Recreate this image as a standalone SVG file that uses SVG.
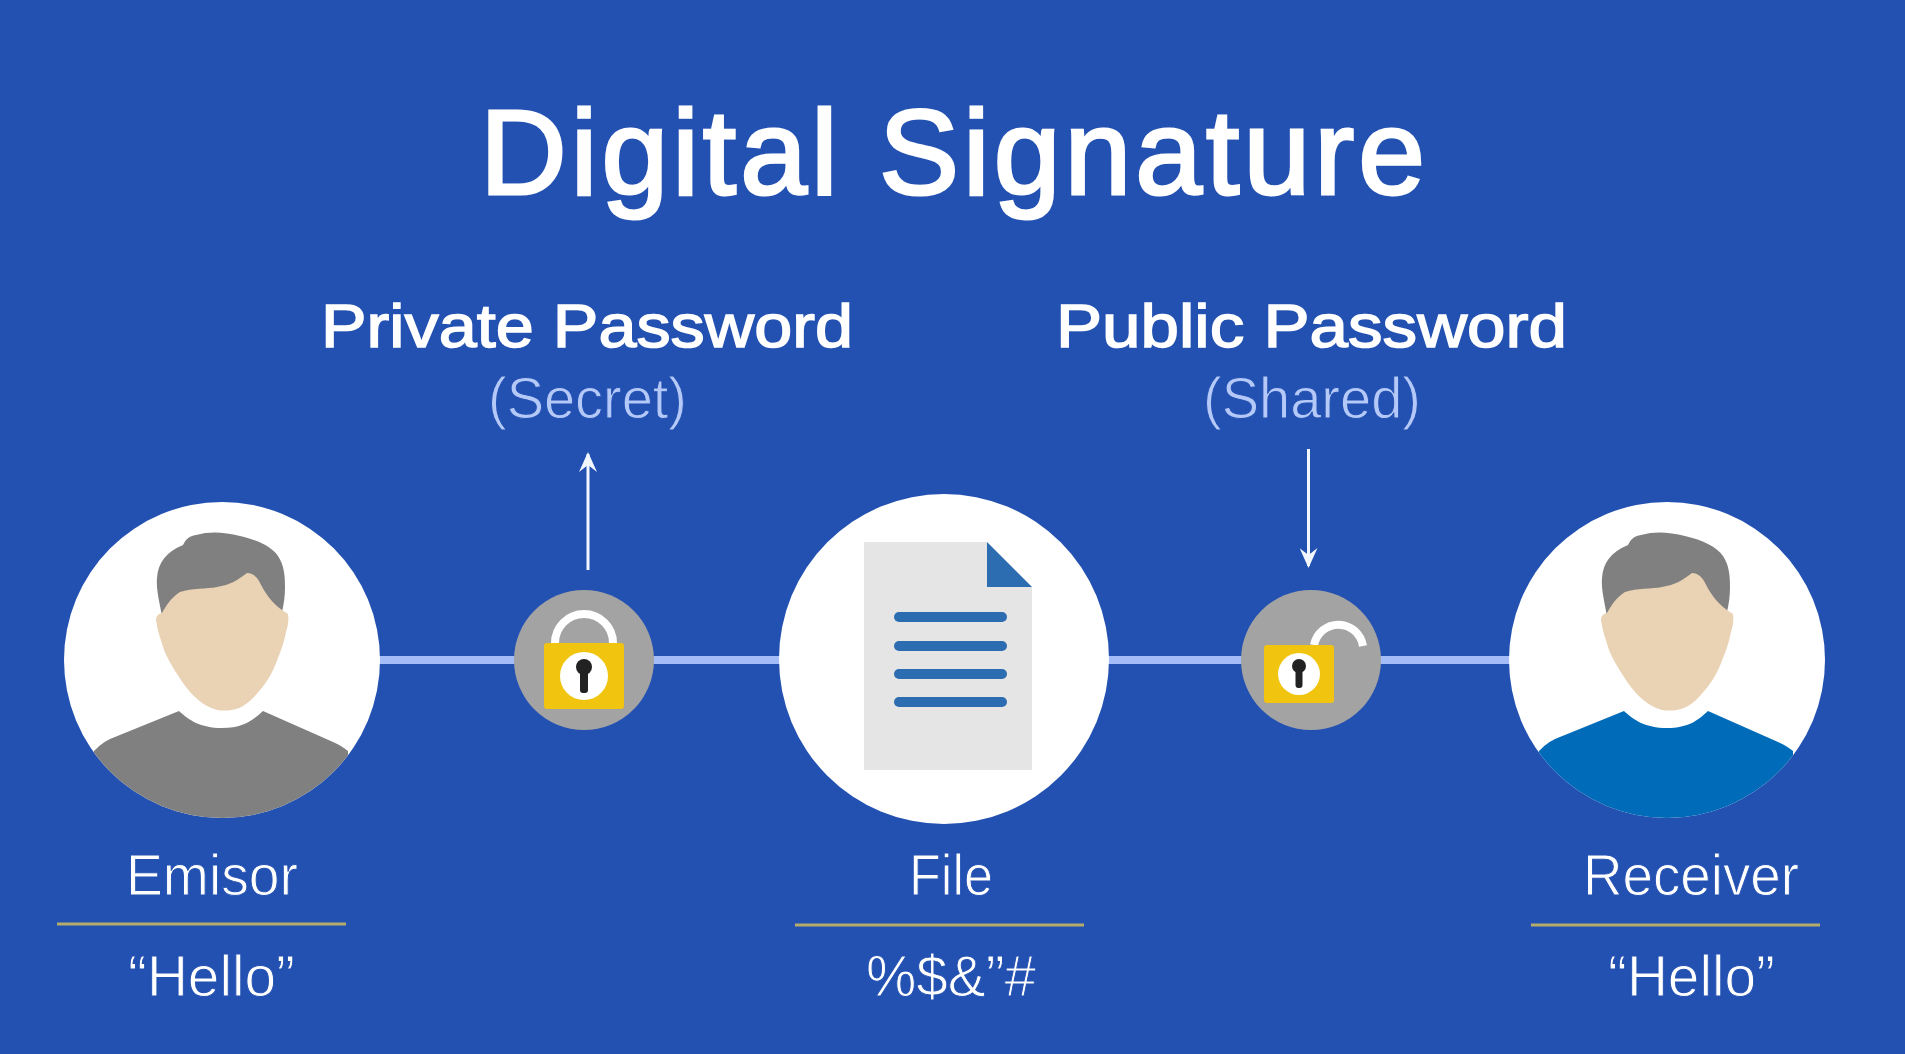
<svg xmlns="http://www.w3.org/2000/svg" width="1905" height="1054" viewBox="0 0 1905 1054">
<style>
text{font-family:"Liberation Sans",Arial,sans-serif;fill:#fff}
.title{font-size:120px;stroke:#fff;stroke-width:3px}
.pw{font-size:62px;stroke:#fff;stroke-width:1.5px}
.sub{font-size:58px;fill:#b4c9f8;stroke:#2351b2;stroke-width:1px}
.lab{font-size:57px;stroke:#2351b2;stroke-width:1px}
.wire{stroke:#a4bcf8;stroke-width:8}
.arr{stroke:#f2f6ff;stroke-width:3;fill:none}
.rule{stroke:#b5ab6a;stroke-width:3}
.disc{fill:#fff}
.lockbg{fill:#a3a3a3}
.body{fill:#f1c40f}
.shackle{fill:none;stroke:#fff;stroke-width:8}
.hole{fill:#fff}
.key{fill:#222}
.hair{fill:#808080}
.face{fill:#ead3b4}
.docline{fill:#2c6cb0}
</style>
<defs>
<clipPath id="pc"><circle r="158"/></clipPath>
<path id="shirt" d="M-128 91C-122 85-118 82-112 79L-43 51C-33 60-22 68 0 68C22 68 31 60 41 51L111 82C118 85 122 88 126 91V170H-128Z"/>
<g id="head">
<path class="hair" d="M-60 -44C-63 -60-66 -72-65 -82C-64 -97-56 -108-39 -115C-36 -121-33 -124-26 -125C-12 -129 2 -128 18 -124C36 -120 50 -113 56 -104C62 -95 63 -85 63 -73C63 -64 62 -57 60 -48L0 -40Z"/>
<path class="face" d="M-60 -47C-55 -56-50 -63-42 -68C-30 -72-15 -71 -5 -73C8 -75 16 -80 25 -87C30 -87 34 -84 37 -79C43 -67 49 -58 60 -50L66 -46C67 -40 66 -34 64 -28C62 -18 60 -12 56 -2C51 12 45 22 38 30C30 40 22 47 14 49C6 51-2 51-8 49C-18 46-30 36-39 23C-47 11-54 0-58 -10C-61 -20-65 -30-66 -40C-66 -44-64 -46-60 -47Z"/>
</g>
<marker id="ah" markerUnits="userSpaceOnUse" markerWidth="24" markerHeight="18" refX="18" refY="9" orient="auto"><path d="M0 0L20 9L0 18L7 9Z" fill="#f2f6ff"/></marker>
</defs>
<rect width="1905" height="1054" fill="#2351b2"/>
<text class="title" x="480" y="194" textLength="945" lengthAdjust="spacing">Digital Signature</text>
<g id="connectors">
<line class="wire" x1="370" y1="660" x2="1520" y2="660"/>
<line class="arr" x1="588" y1="570" x2="588" y2="454" marker-end="url(#ah)"/>
<line class="arr" x1="1308.500" y1="449" x2="1308.500" y2="566" marker-end="url(#ah)"/>
</g>
<g id="emisor">
<circle class="disc" cx="222" cy="660" r="158"/>
<g transform="translate(222 660)"><use href="#shirt" fill="#808080" clip-path="url(#pc)"/><use href="#head"/></g>
<text class="lab" x="126" y="895" textLength="172" lengthAdjust="spacingAndGlyphs">Emisor</text>
<line class="rule" x1="57" y1="924" x2="346" y2="924"/>
<text class="lab" x="128" y="996" textLength="167" lengthAdjust="spacingAndGlyphs">“Hello”</text>
</g>
<g id="private-lock">
<circle class="lockbg" cx="584" cy="660" r="70"/>
<path class="shackle" d="M555 645V643A29 29 0 0 1 613 643V645"/>
<rect class="body" x="544" y="643" width="80" height="66" rx="3"/>
<circle class="hole" cx="584" cy="676" r="24"/>
<circle class="key" cx="584" cy="667" r="8"/>
<rect class="key" x="580" y="667" width="8" height="26" rx="3"/>
</g>
<g id="file">
<circle class="disc" cx="944" cy="659" r="165"/>
<path fill="#e5e5e5" d="M864 542H987L1032 587V770H864Z"/>
<path fill="#2c6cb0" d="M987 542L1032 587H987Z"/>
<rect class="docline" x="894" y="612" width="113" height="10" rx="5"/>
<rect class="docline" x="894" y="641" width="113" height="10" rx="5"/>
<rect class="docline" x="894" y="669" width="113" height="10" rx="5"/>
<rect class="docline" x="894" y="697" width="113" height="10" rx="5"/>
<text class="lab" x="909" y="895" textLength="84" lengthAdjust="spacingAndGlyphs">File</text>
<line class="rule" x1="795" y1="925" x2="1084" y2="925"/>
<text class="lab" x="866" y="996" textLength="170" lengthAdjust="spacingAndGlyphs">%$&amp;”#</text>
</g>
<g id="public-lock">
<circle class="lockbg" cx="1311" cy="660" r="70"/>
<path class="shackle" d="M1314 645A25 26 0 0 1 1363 646"/>
<rect class="body" x="1264" y="645" width="70" height="58" rx="3"/>
<circle class="hole" cx="1299" cy="674" r="21"/>
<circle class="key" cx="1299" cy="666" r="7"/>
<rect class="key" x="1295.500" y="666" width="7" height="22" rx="3"/>
</g>
<g id="receiver">
<circle class="disc" cx="1667" cy="660" r="158"/>
<g transform="translate(1667 660)"><use href="#shirt" fill="#006bb8" clip-path="url(#pc)"/><use href="#head"/></g>
<text class="lab" x="1583" y="895" textLength="216" lengthAdjust="spacingAndGlyphs">Receiver</text>
<line class="rule" x1="1531" y1="925" x2="1820" y2="925"/>
<text class="lab" x="1608" y="996" textLength="167" lengthAdjust="spacingAndGlyphs">“Hello”</text>
</g>
<g id="private-label">
<text class="pw" x="321" y="347" textLength="532" lengthAdjust="spacingAndGlyphs">Private Password</text>
<text class="sub" x="488" y="418" textLength="199" lengthAdjust="spacingAndGlyphs">(Secret)</text>
</g>
<g id="public-label">
<text class="pw" x="1056" y="347" textLength="511" lengthAdjust="spacingAndGlyphs">Public Password</text>
<text class="sub" x="1203" y="418" textLength="218" lengthAdjust="spacingAndGlyphs">(Shared)</text>
</g>
</svg>
